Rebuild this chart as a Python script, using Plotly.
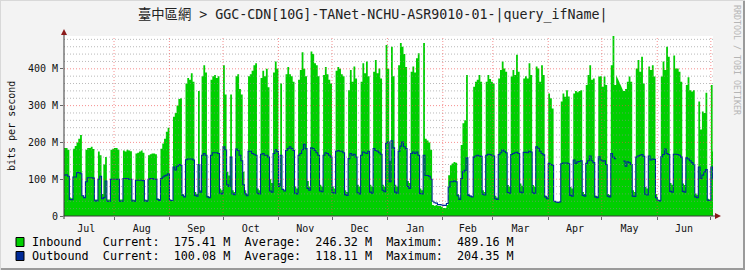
import pandas as pd
import numpy as np
import plotly.graph_objects as go

# ---------------- data (Mbit/s, one value per day) ----------------
start_date = "2024-07-04"
range_end = "2025-07-02 05:00"

inbound_mbps = [
    185, 185, 180, 50, 48,
    183, 190, 200, 210, 220, 55, 52,
    180, 185, 185, 188, 182, 45, 45,
    175, 165, 60, 140, 160, 45, 45,
    180, 183, 185, 185, 180, 45, 45,
    178, 175, 180, 178, 176, 45, 44,
    170, 172, 175, 178, 172, 45, 44,
    165, 168, 170, 170, 168, 48, 46,
    183, 197, 210, 229, 240, 45, 43,
    270, 280, 300, 318, 320, 60, 55,
    360, 375, 370, 388, 365, 65, 60,
    340, 70, 380, 410, 390, 55, 52,
    370, 380, 383, 375, 380, 75, 70,
    410, 330, 120, 110, 330, 70, 65,
    380, 385, 345, 330, 120, 70, 60,
    380, 385, 395, 410, 415, 75, 70,
    375, 395, 380, 400, 350, 100, 90,
    390, 420, 400, 90, 360, 75, 70,
    385, 405, 385, 380, 365, 80, 75,
    370, 397, 445, 400, 380, 95, 80,
    447, 440, 415, 410, 380, 85, 80,
    383, 405, 385, 370, 360, 80, 75,
    395, 405, 400, 385, 380, 70, 65,
    342, 397, 365, 406, 374, 85, 80,
    365, 415, 388, 420, 380, 85, 80,
    392, 424, 388, 401, 374, 85, 80,
    465, 400, 150, 460, 380, 85, 80,
    410, 470, 460, 440, 405, 95, 90,
    392, 406, 390, 429, 442, 75, 70,
    470, 210, 205, 200, 180, 30, 28,
    30, 27, 27, 25, 22, 22, 30,
    111, 138, 143, 147, 145, 60, 50,
    193, 252, 260, 383, 60, 55, 52,
    351, 365, 370, 383, 365, 70, 65,
    365, 383, 372, 365, 360, 55, 50,
    374, 397, 420, 401, 392, 84, 80,
    379, 397, 383, 438, 392, 88, 82,
    374, 380, 374, 415, 383, 84, 80,
    406, 401, 365, 410, 383, 56, 52,
    333, 320, 292, 40, 38, 36, 40,
    311, 333, 324, 342, 325, 79, 75,
    333, 340, 336, 340, 342, 65, 60,
    356, 383, 410, 370, 374, 56, 54,
    379, 380, 351, 379, 356, 60, 58,
    410, 489.16, 356, 383, None, None, None,
    340, 345, 365, 379, 365, 70, 65,
    401, 424, 392, 433, 360, 79, 75,
    406, 397, 410, 379, 60, 45, 44,
    379, 420, 397, 460, 433, 90, 85,
    436, 401, 401, 392, 365, 88, 84,
    356, 377, 342, 338, 342, 61, 58,
    311, 235, 284, 280, 335, 47, 45,
    356, 175.41,
]

outbound_mbps = [
    111, 112, 108, 45, 44,
    106, 106, 118, 118, 115, 55, 50,
    93, 104, 104, 104, 103, 41, 41,
    100, 108, 47, 50, 95, 40, 40,
    100, 100, 100, 100, 100, 40, 40,
    102, 102, 102, 100, 100, 41, 40,
    97, 97, 97, 97, 96, 41, 40,
    100, 102, 102, 100, 100, 45, 42,
    102, 106, 109, 111, 115, 43, 42,
    133, 125, 135, 140, 138, 56, 52,
    153, 155, 155, 155, 152, 56, 54,
    140, 65, 165, 170, 165, 52, 50,
    165, 172, 172, 172, 170, 62, 60,
    188, 180, 85, 80, 160, 60, 58,
    182, 178, 165, 150, 85, 60, 55,
    176, 176, 170, 168, 165, 62, 60,
    168, 170, 165, 165, 160, 68, 65,
    170, 180, 175, 80, 165, 72, 68,
    178, 183, 188, 183, 178, 62, 60,
    165, 170, 180, 195, 183, 75, 70,
    185, 183, 178, 172, 165, 68, 66,
    165, 172, 170, 165, 160, 64, 62,
    176, 178, 176, 176, 172, 58, 56,
    156, 170, 165, 168, 160, 63, 60,
    165, 174, 172, 170, 176, 65, 62,
    183, 178, 176, 172, 168, 70, 66,
    197, 201, 93, 204.35, 185, 65, 62,
    176, 190, 201, 188, 183, 80, 75,
    170, 174, 170, 174, 165, 61, 60,
    165, 110, 110, 108, 100, 40, 36,
    35, 31, 31, 30, 29, 29, 34,
    79, 93, 93, 95, 93, 55, 45,
    102, 120, 124, 158, 56, 54, 52,
    160, 163, 165, 163, 162, 59, 57,
    165, 168, 167, 165, 163, 47, 45,
    167, 172, 179, 176, 172, 64, 62,
    167, 170, 172, 173, 170, 65, 63,
    173, 173, 172, 176, 174, 63, 61,
    188, 184, 176, 170, 166, 52, 47,
    143, 140, 138, 40, 38, 37, 38,
    142, 144, 144, 144, 142, 56, 54,
    152, 143, 147, 148, 150, 56, 54,
    143, 150, 163, 150, 145, 52, 50,
    161, 152, 149, 150, 140, 54, 52,
    170, 160, 156, 156, None, None, None,
    149, 135, 147, 145, 140, 54, 53,
    160, 163, 165, 167, 162, 59, 57,
    163, 152, 155, 154, 50, 42, 41,
    161, 167, 182, 170, 167, 67, 65,
    168, 168, 167, 165, 160, 67, 65,
    158, 155, 150, 145, 140, 52, 50,
    133, 102, 111, 120, 126, 43, 42,
    133, 100.08,
]

y_major_ticks = [0, 100, 200, 300, 400]
y_minor_step = 20
legend_rows = [
    ("Inbound", "#00CF00", "175.41 M", "246.32 M", "489.16 M"),
    ("Outbound", "#002A97", "100.08 M", "118.11 M", "204.35 M"),
]
title_text = "臺中區網 > GGC-CDN[10G]-TANet-NCHU-ASR9010-01-|query_ifName|"
y_title = "bits per second"

# ---------------- figure ----------------
W, H = 745, 270
PL, PR, PT, PB = 64, 713, 36, 216      # plot area in pixels
MONO = "DejaVu Sans Mono, Noto Sans CJK TC, monospace"
GREEN, BLUE = "#00CF00", "#002A97"
BG = "#F3F3F3"
MAJOR_GRID = "rgba(240,70,70,0.6)"
MINOR_GRID = "rgba(140,140,140,0.6)"
GRID_DASH = "1px,2px"

dates = pd.date_range(start_date, periods=len(inbound_mbps), freq="D")
dates_ext = dates.append(pd.DatetimeIndex([dates[-1] + pd.Timedelta(days=1)]))
inb = np.array([np.nan if v is None else v for v in inbound_mbps], dtype=float)
outb = np.array([np.nan if v is None else v for v in outbound_mbps], dtype=float)
inb = np.append(inb, inb[-1])
outb = np.append(outb, outb[-1])
ymax = np.nanmax(inb)

fig = go.Figure()
fig.add_trace(go.Scatter(x=dates_ext, y=inb, mode="lines", line=dict(shape="hv", width=0, color=GREEN),
                         fill="tozeroy", fillcolor=GREEN, connectgaps=False, hoverinfo="skip"))
fig.add_trace(go.Scatter(x=dates_ext, y=outb, mode="lines", line=dict(shape="hv", width=1.1, color=BLUE),
                         connectgaps=False, hoverinfo="skip"))

def px_x(p):
    return (p - PL) / (PR - PL)

def px_y(p):
    return (PB - p) / (PB - PT)

shapes = []
# grid drawn on top of the data (rrdtool style)
for v in np.arange(y_minor_step, ymax, y_minor_step):
    major = v in y_major_ticks
    shapes.append(dict(type="line", layer="above", xref="paper", yref="y", x0=0, x1=1, y0=v, y1=v,
                       line=dict(color=MAJOR_GRID if major else MINOR_GRID, width=1, dash=GRID_DASH)))
for m in pd.date_range("2024-08-01", range_end, freq="MS"):
    shapes.append(dict(type="line", layer="above", xref="x", yref="paper", x0=m, x1=m, y0=0, y1=1,
                       line=dict(color=MAJOR_GRID, width=1, dash=GRID_DASH)))
# axis lines with arrows
shapes.append(dict(type="line", xref="paper", yref="paper", x0=px_x(PL - 0.5), x1=px_x(PR + 4),
                   y0=0, y1=0, line=dict(color="#3a3a3a", width=1)))
shapes.append(dict(type="line", xref="paper", yref="paper", x0=0, x1=0,
                   y0=px_y(PB + 3), y1=px_y(PT - 4), line=dict(color="#3a3a3a", width=1)))
ax_tri = f"M {px_x(PR+2)} {px_y(PB-3)} L {px_x(PR+8)} {px_y(PB)} L {px_x(PR+2)} {px_y(PB+3)} Z"
ay_tri = f"M {px_x(PL-3)} {px_y(PT-1)} L {px_x(PL)} {px_y(PT-7)} L {px_x(PL+3)} {px_y(PT-1)} Z"
for p in (ax_tri, ay_tri):
    shapes.append(dict(type="path", xref="paper", yref="paper", path=p,
                       fillcolor="#8B1A1A", line=dict(width=0)))
# legend swatches
for i, row in enumerate(legend_rows):
    yc = 242 + 14 * i
    shapes.append(dict(type="rect", xref="paper", yref="paper",
                       x0=px_x(16), x1=px_x(24), y0=px_y(yc - 4.5), y1=px_y(yc + 4.5),
                       fillcolor=row[1], line=dict(color="#000000", width=1)))
# frame (3d look)
shapes.append(dict(type="line", xref="paper", yref="paper", x0=px_x(W - 1), x1=px_x(W - 1),
                   y0=px_y(0), y1=px_y(H), line=dict(color="#9a9a9a", width=2)))
shapes.append(dict(type="line", xref="paper", yref="paper", x0=px_x(0), x1=px_x(W),
                   y0=px_y(H - 1), y1=px_y(H - 1), line=dict(color="#9a9a9a", width=2)))
shapes.append(dict(type="line", xref="paper", yref="paper", x0=px_x(0.5), x1=px_x(0.5),
                   y0=px_y(0), y1=px_y(H), line=dict(color="#d8d8d8", width=1)))
shapes.append(dict(type="line", xref="paper", yref="paper", x0=px_x(0), x1=px_x(W),
                   y0=px_y(0.5), y1=px_y(0.5), line=dict(color="#d8d8d8", width=1)))

annotations = []
annotations.append(dict(text=title_text, xref="paper", yref="paper", x=px_x(372), y=px_y(15),
                        showarrow=False, xanchor="center", yanchor="middle",
                        font=dict(family=MONO, size=13.3, color="#222222")))
annotations.append(dict(text=y_title, xref="paper", yref="paper", x=px_x(11), y=px_y(126),
                        showarrow=False, textangle=-90, xanchor="center", yanchor="middle",
                        font=dict(family=MONO, size=10, color="#111111")))
annotations.append(dict(text="RRDTOOL / TOBI OETIKER", xref="paper", yref="paper", x=px_x(737), y=px_y(60),
                        showarrow=False, textangle=90, xanchor="center", yanchor="middle",
                        font=dict(family=MONO, size=8.3, color="#b5b5b5")))
for i, (name, col, cur, avg, mx) in enumerate(legend_rows):
    line = f"{name:<10}Current:  {cur}  Average:  {avg}  Maximum:  {mx}"
    annotations.append(dict(text=line, xref="paper", yref="paper", x=px_x(30), y=px_y(242 + 14 * i),
                            showarrow=False, xanchor="left", yanchor="middle",
                            font=dict(family=MONO, size=11.77, color="#000000")))

fig.update_layout(
    width=W, height=H,
    margin=dict(l=PL, r=W - PR, t=PT, b=H - PB, pad=0),
    paper_bgcolor=BG, plot_bgcolor="#FFFFFF",
    showlegend=False,
    shapes=shapes, annotations=annotations,
    xaxis=dict(type="date", range=[start_date, range_end], dtick="M1", tick0="2024-08-01",
               ticklabelmode="period", tickformat="%b", showgrid=False, automargin=False,
               ticks="outside", ticklen=3, tickcolor="#666666", showline=False, zeroline=False,
               tickfont=dict(family=MONO, size=10, color="#111111")),
    yaxis=dict(range=[0, ymax], tickmode="array", tickvals=y_major_ticks,
               ticktext=[("0" if v == 0 else f"{v} M") for v in y_major_ticks],
               showgrid=False, automargin=False,
               ticks="outside", ticklen=3, tickcolor="#666666", showline=False, zeroline=False,
               tickfont=dict(family=MONO, size=10, color="#111111")),
)

fig.write_html("out.html")
